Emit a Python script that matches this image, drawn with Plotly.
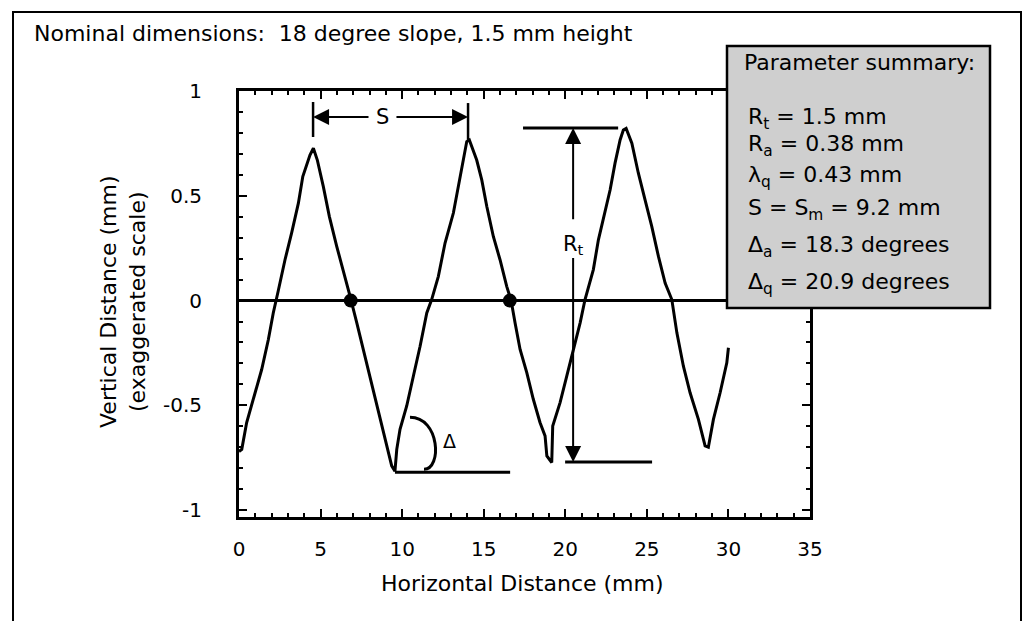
import plotly.graph_objects as go

# ---------------- data ----------------
profile_x = [0.0, 0.17, 0.47, 0.88, 1.39, 1.80, 2.10, 2.41, 2.82, 3.23, 3.64, 3.91, 4.35, 4.56,
             4.80, 5.17, 5.54, 5.99, 6.50, 6.81, 7.22, 7.62, 8.03, 8.44, 8.85, 9.15, 9.36, 9.56,
             9.67, 9.87, 10.28, 10.69, 11.10, 11.51, 11.81, 12.22, 12.63, 13.14, 13.45, 13.75,
             13.96, 14.12, 14.57, 14.88, 15.19, 15.59, 16.00, 16.41, 16.68, 16.92, 17.23, 17.64,
             18.04, 18.45, 18.76, 18.87, 19.17, 19.23, 19.68, 20.09, 20.50, 20.91, 21.21, 21.72,
             22.03, 22.44, 22.75, 23.05, 23.36, 23.56, 23.73, 24.08, 24.48, 24.89, 25.30, 25.71,
             26.12, 26.53, 26.84, 27.24, 27.65, 28.16, 28.57, 28.77, 29.08, 29.49, 29.90, 30.0]
profile_y = [-0.72, -0.71, -0.582, -0.471, -0.329, -0.186, -0.059, 0.048, 0.195, 0.324, 0.465,
             0.592, 0.695, 0.727, 0.671, 0.544, 0.401, 0.259, 0.116, 0.020, -0.106, -0.233,
             -0.360, -0.487, -0.614, -0.710, -0.789, -0.814, -0.710, -0.614, -0.503, -0.360,
             -0.218, -0.059, 0.005, 0.116, 0.275, 0.418, 0.544, 0.671, 0.759, 0.767, 0.671,
             0.576, 0.449, 0.306, 0.195, 0.068, 0.0, -0.106, -0.233, -0.344, -0.471, -0.582,
             -0.646, -0.741, -0.773, -0.599, -0.487, -0.360, -0.233, -0.106, 0.005, 0.148,
             0.290, 0.418, 0.529, 0.656, 0.767, 0.814, 0.822, 0.751, 0.608, 0.481, 0.354,
             0.211, 0.084, 0.005, -0.154, -0.313, -0.440, -0.567, -0.694, -0.700, -0.567,
             -0.440, -0.297, -0.225]

crossing_x = [6.85, 16.6]
crossing_y = [0.0, 0.0]

x_ticks = [0, 5, 10, 15, 20, 25, 30, 35]
y_ticks = [-1, -0.5, 0, 0.5, 1]
y_tick_text = ["-1", "-0.5", "0", "0.5", "1"]

title_text = "Nominal dimensions:  18 degree slope, 1.5 mm height"
x_title = "Horizontal Distance (mm)"
y_title = "Vertical Distance (mm)<br>(exaggerated scale)"
summary_lines = [
    "Parameter summary:",
    "R<sub>t</sub> = 1.5 mm",
    "R<sub>a</sub> = 0.38 mm",
    "λ<sub>q</sub> = 0.43 mm",
    "S = S<sub>m</sub> = 9.2 mm",
    "Δ<sub>a</sub> = 18.3 degrees",
    "Δ<sub>q</sub> = 20.9 degrees",
]

# annotation geometry values (data units)
s_peak1_x, s_peak2_x, s_y = 4.54, 14.04, 0.876
rt_x, rt_top, rt_bot = 20.48, 0.824, -0.771
delta_y = -0.819

# ---------------- layout helpers ----------------
W, H = 1029, 621
L, R, T, B = 239, 810, 91, 517
FONT = "DejaVu Sans, Liberation Sans, Arial, sans-serif"


def px(xp):
    return (xp - L) / (R - L)


def py(yp):
    return (B - yp) / (B - T)


fig = go.Figure()

fig.add_trace(go.Scatter(x=profile_x, y=profile_y, mode="lines",
                         line=dict(color="black", width=3), hoverinfo="skip",
                         showlegend=False))
fig.add_trace(go.Scatter(x=crossing_x, y=crossing_y, mode="markers",
                         marker=dict(color="black", size=14), hoverinfo="skip",
                         showlegend=False))

shapes = []
ann = []

# outer border
shapes.append(dict(type="rect", xref="paper", yref="paper",
                   x0=px(13), x1=px(1021), y0=py(640), y1=py(12),
                   line=dict(color="black", width=2), layer="below"))

# S markers
shapes.append(dict(type="line", xref="x", yref="y", x0=s_peak1_x, x1=s_peak1_x,
                   y0=0.781, y1=0.948, line=dict(color="black", width=2.5)))
shapes.append(dict(type="line", xref="x", yref="y", x0=s_peak2_x, x1=s_peak2_x,
                   y0=0.767, y1=0.943, line=dict(color="black", width=2.5)))
ann.append(dict(x=s_peak1_x, y=s_y, ax=8.03, ay=s_y, xref="x", yref="y", axref="x", ayref="y",
                text="", showarrow=True, arrowhead=2, arrowsize=1.6, arrowwidth=2,
                arrowcolor="black", standoff=0, startstandoff=0))
ann.append(dict(x=s_peak2_x, y=s_y, ax=9.56, ay=s_y, xref="x", yref="y", axref="x", ayref="y",
                text="", showarrow=True, arrowhead=2, arrowsize=1.6, arrowwidth=2,
                arrowcolor="black", standoff=0, startstandoff=0))
ann.append(dict(x=8.77, y=s_y, xref="x", yref="y", text="S", showarrow=False,
                font=dict(family=FONT, size=21, color="black")))

# Rt markers
shapes.append(dict(type="line", xref="x", yref="y", x0=17.41, x1=23.24, y0=rt_top, y1=rt_top,
                   line=dict(color="black", width=3)))
shapes.append(dict(type="line", xref="x", yref="y", x0=19.99, x1=25.32, y0=rt_bot, y1=rt_bot,
                   line=dict(color="black", width=3)))
ann.append(dict(x=rt_x, y=rt_top, ax=rt_x, ay=0.381, xref="x", yref="y", axref="x", ayref="y",
                text="", showarrow=True, arrowhead=2, arrowsize=1.6, arrowwidth=2,
                arrowcolor="black", standoff=0, startstandoff=0))
ann.append(dict(x=rt_x, y=rt_bot, ax=rt_x, ay=0.21, xref="x", yref="y", axref="x", ayref="y",
                text="", showarrow=True, arrowhead=2, arrowsize=1.6, arrowwidth=2,
                arrowcolor="black", standoff=0, startstandoff=0))
ann.append(dict(x=rt_x, y=0.267, xref="x", yref="y", text="R<sub>t</sub>", showarrow=False,
                font=dict(family=FONT, size=21, color="black")))

# Delta marker
shapes.append(dict(type="line", xref="x", yref="y", x0=9.56, x1=16.62, y0=delta_y, y1=delta_y,
                   line=dict(color="black", width=3)))
shapes.append(dict(type="path", xref="x", yref="y",
                   path="M 10.48,-0.557 C 12.32,-0.557 12.45,-0.805 11.34,-0.805",
                   line=dict(color="black", width=3)))
ann.append(dict(x=12.88, y=-0.671, xref="x", yref="y", text="Δ", showarrow=False,
                font=dict(family=FONT, size=19, color="black")))

# Parameter summary box
shapes.append(dict(type="rect", xref="paper", yref="paper",
                   x0=px(727), x1=px(990), y0=py(308), y1=py(46),
                   fillcolor="#cfcfcf", line=dict(color="black", width=2.5), layer="above"))
line_y = [63, 118, 145, 176, 209, 247, 283]
for txt, yy in zip(summary_lines, line_y):
    ann.append(dict(x=px(742 if yy == 63 else 746), y=py(yy), xref="paper", yref="paper",
                    xanchor="left", yanchor="middle", text=txt, showarrow=False,
                    font=dict(family=FONT, size=22, color="black")))

# titles
ann.append(dict(x=px(32), y=py(34), xref="paper", yref="paper", xanchor="left",
                yanchor="middle", text=title_text, showarrow=False,
                font=dict(family=FONT, size=22, color="black")))
ann.append(dict(x=px(522), y=py(583), xref="paper", yref="paper", xanchor="center",
                yanchor="middle", text=x_title, showarrow=False,
                font=dict(family=FONT, size=22, color="black")))
ann.append(dict(x=px(123), y=py(302), xref="paper", yref="paper", xanchor="center",
                yanchor="middle", text=y_title, showarrow=False, textangle=-90,
                font=dict(family=FONT, size=22, color="black")))

axis_common = dict(showline=True, linecolor="black", linewidth=3, mirror="allticks",
                   ticks="inside", tickcolor="black", tickwidth=2, ticklen=8,
                   showgrid=False, tickfont=dict(family=FONT, size=20, color="black"))

fig.update_layout(
    width=W, height=H,
    margin=dict(l=L, r=W - R, t=T, b=H - B),
    paper_bgcolor="white", plot_bgcolor="white",
    showlegend=False,
    shapes=shapes, annotations=ann,
    xaxis=dict(range=[0, 35], tickvals=x_ticks, zeroline=False,
               minor=dict(dtick=1, tick0=0, ticks="inside", ticklen=4, tickwidth=2,
                          tickcolor="black", showgrid=False),
               ticklabelstandoff=12, **axis_common),
    yaxis=dict(range=[-1.033, 1.0005], tickvals=y_ticks, ticktext=y_tick_text,
               zeroline=True, zerolinecolor="black", zerolinewidth=3,
               minor=dict(dtick=0.1, tick0=0, ticks="inside", ticklen=4, tickwidth=2,
                          tickcolor="black", showgrid=False),
               ticklabelstandoff=30, **axis_common),
)

fig.write_html("out.html")
